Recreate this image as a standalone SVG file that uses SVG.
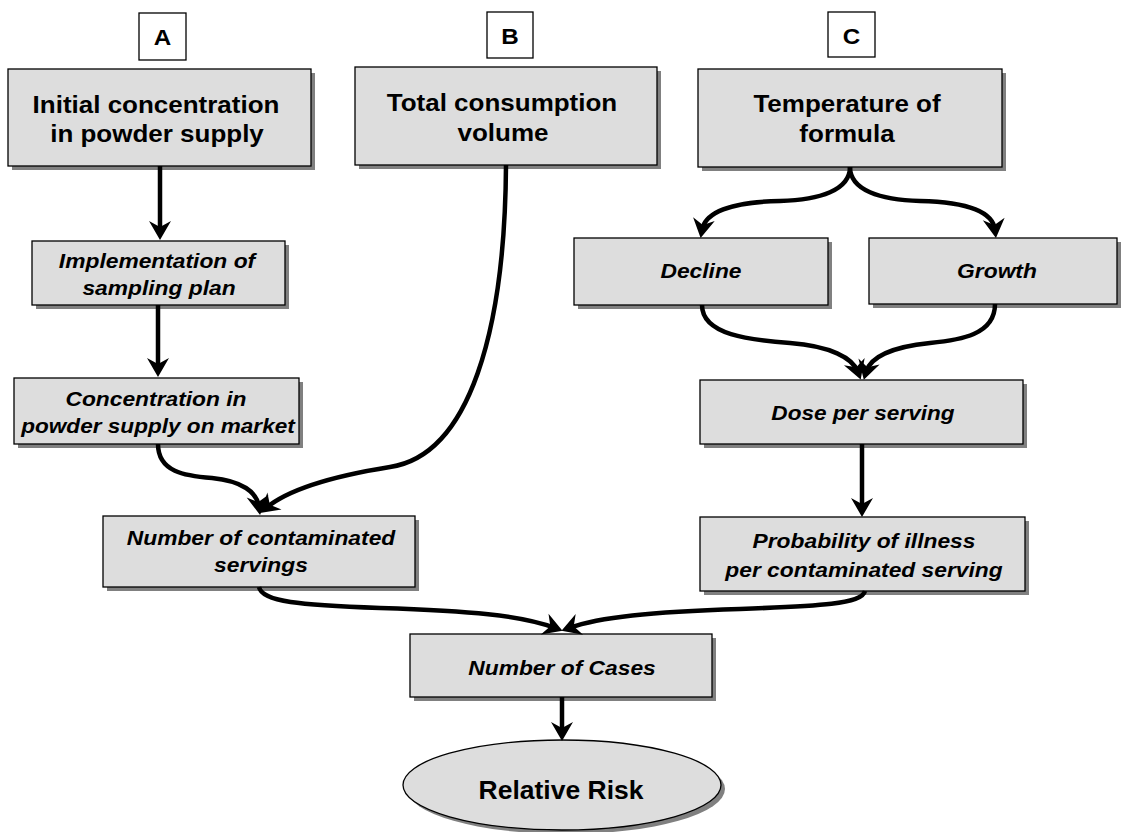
<svg xmlns="http://www.w3.org/2000/svg" width="1122" height="832" viewBox="0 0 1122 832">
<style>
.box{fill:#dddddd;stroke:#000;stroke-width:1.3}
.sh{fill:#808080;stroke:none}
.lab{fill:#fff;stroke:#000;stroke-width:1.3}
.tt{font-family:"Liberation Sans",Arial,sans-serif;font-weight:bold;font-size:23px;text-anchor:middle;fill:#000}
.ti{font-family:"Liberation Sans",Arial,sans-serif;font-weight:bold;font-style:italic;font-size:20px;text-anchor:middle;fill:#000}
.tl{font-family:"Liberation Sans",Arial,sans-serif;font-weight:bold;font-size:22px;text-anchor:middle;fill:#000}
.tr{font-family:"Liberation Sans",Arial,sans-serif;font-weight:bold;font-size:25px;text-anchor:middle;fill:#000}
.c{fill:none;stroke:#000;stroke-width:4.5;marker-end:url(#ah)}
</style>
<defs>
<marker id="ah" markerUnits="userSpaceOnUse" viewBox="-13 -13 26 26" markerWidth="26" markerHeight="26" refX="0" refY="0" orient="auto">
<path d="M8,0 L-11,-11 L-5,0 L-11,11 Z" fill="#000"/>
</marker>
</defs>
<rect width="1122" height="832" fill="#fff"/>

<g id="labelA"><rect class="lab" x="139" y="13" width="47" height="47"/><text class="tl" transform="translate(162.5,45) scale(1.1,1)">A</text></g>
<g id="labelB"><rect class="lab" x="487" y="12" width="46" height="46"/><text class="tl" transform="translate(510,44) scale(1.1,1)">B</text></g>
<g id="labelC"><rect class="lab" x="828" y="12" width="47" height="45"/><text class="tl" transform="translate(851.5,44) scale(1.1,1)">C</text></g>

<g id="initial"><rect class="sh" x="12" y="73" width="303" height="97"/><rect class="box" x="8" y="69" width="303" height="97"/>
<text class="tt" transform="translate(156,113) scale(1.13,1)">Initial concentration</text>
<text class="tt" transform="translate(157,142) scale(1.13,1)">in powder supply</text></g>

<g id="total"><rect class="sh" x="359" y="71" width="302" height="98"/><rect class="box" x="355" y="67" width="302" height="98"/>
<text class="tt" transform="translate(502,111) scale(1.13,1)">Total consumption</text>
<text class="tt" transform="translate(503,141) scale(1.13,1)">volume</text></g>

<g id="temperature"><rect class="sh" x="702" y="73" width="304" height="98"/><rect class="box" x="698" y="69" width="304" height="98"/>
<text class="tt" transform="translate(847,112) scale(1.13,1)">Temperature of</text>
<text class="tt" transform="translate(847,142) scale(1.13,1)">formula</text></g>

<g id="implementation"><rect class="sh" x="36" y="245" width="253" height="64"/><rect class="box" x="32" y="241" width="253" height="64"/>
<text class="ti" transform="translate(157,268) scale(1.14,1)">Implementation of</text>
<text class="ti" transform="translate(159,295) scale(1.14,1)">sampling plan</text></g>

<g id="concentration"><rect class="sh" x="18" y="382" width="285" height="66"/><rect class="box" x="14" y="378" width="285" height="66"/>
<text class="ti" transform="translate(156,406) scale(1.14,1)">Concentration in</text>
<text class="ti" transform="translate(158,433) scale(1.13,1)">powder supply on market</text></g>

<g id="contaminated"><rect class="sh" x="107" y="520" width="312" height="71"/><rect class="box" x="103" y="516" width="312" height="71"/>
<text class="ti" transform="translate(261,545) scale(1.14,1)">Number of contaminated</text>
<text class="ti" transform="translate(261,572) scale(1.14,1)">servings</text></g>

<g id="decline"><rect class="sh" x="578" y="242" width="254" height="67"/><rect class="box" x="574" y="238" width="254" height="67"/>
<text class="ti" transform="translate(701,278) scale(1.14,1)">Decline</text></g>

<g id="growth"><rect class="sh" x="873" y="242" width="248" height="66"/><rect class="box" x="869" y="238" width="248" height="66"/>
<text class="ti" transform="translate(997,278) scale(1.14,1)">Growth</text></g>

<g id="dose"><rect class="sh" x="704" y="384" width="323" height="64"/><rect class="box" x="700" y="380" width="323" height="64"/>
<text class="ti" transform="translate(863,420) scale(1.13,1)">Dose per serving</text></g>

<g id="probability"><rect class="sh" x="704" y="521" width="325" height="74"/><rect class="box" x="700" y="517" width="325" height="74"/>
<text class="ti" transform="translate(864,548) scale(1.14,1)">Probability of illness</text>
<text class="ti" transform="translate(864,577) scale(1.14,1)">per contaminated serving</text></g>

<g id="cases"><rect class="sh" x="414" y="638" width="302" height="63"/><rect class="box" x="410" y="634" width="302" height="63"/>
<text class="ti" transform="translate(562,675) scale(1.14,1)">Number of Cases</text></g>

<g id="risk"><ellipse class="sh" cx="566" cy="789" rx="159" ry="45"/><ellipse class="box" cx="562" cy="785" rx="159" ry="45"/>
<text class="tr" transform="translate(561,799) scale(1.06,1)">Relative Risk</text></g>

<g id="connectors">
<path class="c" d="M160,166 L160,232"/>
<path class="c" d="M158,305 L158,369"/>
<path class="c" d="M158,444 C158,472 185,476 212,478 C242,481 257,492 259,507"/>
<path class="c" d="M506,165 C505,330 470,455 390,467 C340,475 290,488 266,508"/>
<path class="c" d="M850,167 C850,190 820,200 780,201 C730,202 705,213 702,230"/>
<path class="c" d="M850,167 C850,190 880,200 920,201 C970,202 993,213 995,230"/>
<path class="c" d="M702,305 C702,335 750,340 790,343 C830,346 853,358 858,372"/>
<path class="c" d="M995,304 C995,335 960,340 930,343 C890,347 870,358 866,372"/>
<path class="c" d="M862,444 L862,509"/>
<path class="c" d="M259,587 C262,602 300,605 380,608 C470,611 520,615 555,628"/>
<path class="c" d="M865,591 C862,604 820,606 740,609 C650,612 600,617 569,628"/>
<path class="c" d="M562,697 L562,733"/>
</g>
</svg>
